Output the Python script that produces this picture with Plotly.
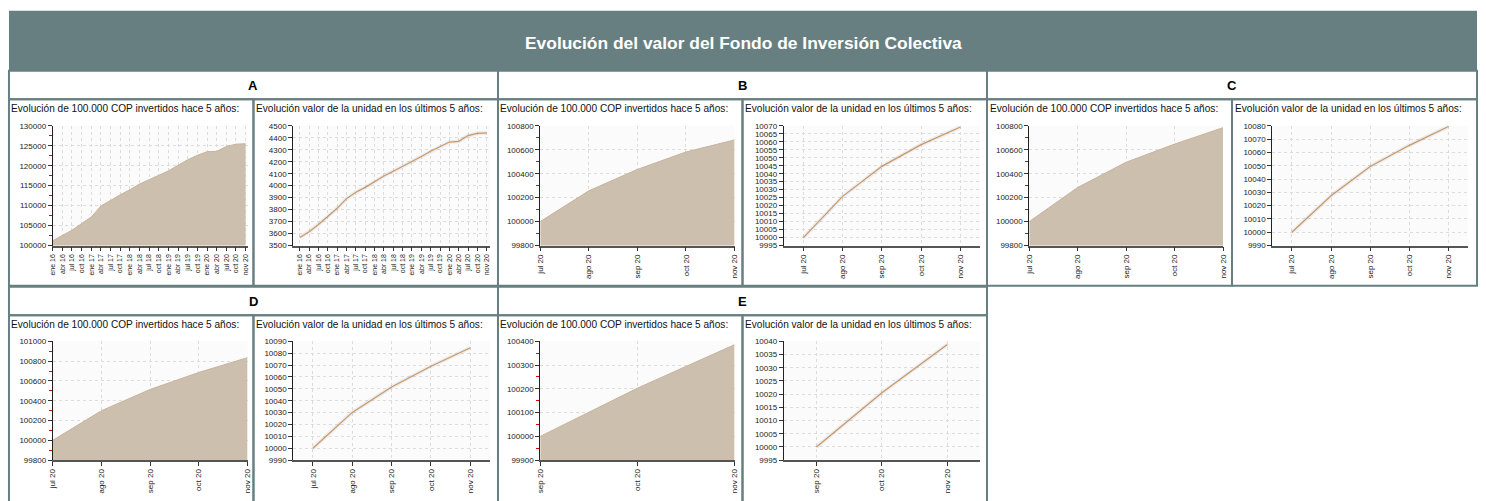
import plotly.graph_objects as go

W, H = 1486, 501

# ---------------- data ----------------
labels_A = ["ene 16", "abr 16", "jul 16", "oct 16", "ene 17", "abr 17", "jul 17", "oct 17",
            "ene 18", "abr 18", "jul 18", "oct 18", "ene 19", "abr 19", "jul 19", "oct 19",
            "ene 20", "abr 20", "jul 20", "oct 20", "nov 20"]
inv_A = [101200, 102450, 103850, 105500, 107150, 109900, 111400, 112700, 114000, 115400,
         116500, 117500, 118700, 120100, 121500, 122600, 123500, 123600, 124800, 125400, 125500]
unit_A = [3568, 3616, 3676, 3743, 3811, 3892, 3946, 3986, 4035, 4080, 4121, 4162, 4197, 4243,
          4288, 4329, 4364, 4370, 4418, 4437, 4440]

labels_BCD = ["jul 20", "ago 20", "sep 20", "oct 20", "nov 20"]
inv_B = [100000, 100257, 100436, 100581, 100682]
unit_B = [10000, 10025.8, 10044.6, 10058.2, 10069.2]
inv_C = [100000, 100285, 100496, 100647, 100784]
unit_C = [10000, 10027.4, 10049.4, 10065.3, 10079.5]
inv_D = [100000, 100299, 100514, 100686, 100835]
unit_D = [10000, 10030.2, 10051.6, 10069.0, 10084.6]

labels_E = ["sep 20", "oct 20", "nov 20"]
inv_E = [100000, 100203, 100386]
unit_E = [10000, 10020.5, 10038.8]

title = "Evolución del valor del Fondo de Inversión Colectiva"
sub_inv = "Evolución de 100.000 COP invertidos hace 5 años:"
sub_unit = "Evolución valor de la unidad en los últimos 5 años:"
fund_names = ["A", "B", "C", "D", "E"]

# ---------------- style ----------------
FONT = "Arial, Liberation Sans, sans-serif"
TEAL = "#687f81"
AREA_FILL = "#cdbfae"
AREA_LINE = "#c6b29c"
UNIT_LINE = "#c8996c"
GRID = "#dcdcdc"
GRID_DASH = "3px,3px"

def px_x(x):
    return x / W

def px_y(y):
    return 1 - y / H

fig = go.Figure()

rows_y = [(124, 246), (343.5, 464.5)]
cols = [(49, 245), (291, 489), (539.5, 735), (784.5, 982), (1031.5, 1226.5), (1276, 1473)]

panels = [
    (labels_A, inv_A, "area", cols[0], rows_y[0], [100000, 130000], 5000, 2500, [0, 20.2], 7),
    (labels_A, unit_A, "line", cols[1], rows_y[0], [3500, 4500], 100, None, [-0.7, 20.35], 7),
    (labels_BCD, inv_B, "area", cols[2], rows_y[0], [99800, 100800], 200, 100, [0, 4], 8),
    (labels_BCD, unit_B, "line", cols[3], rows_y[0], [9995, 10070], 5, None, [-0.5, 4.5], 8),
    (labels_BCD, inv_C, "area", cols[4], rows_y[0], [99800, 100800], 200, 100, [0, 4], 8),
    (labels_BCD, unit_C, "line", cols[5], rows_y[0], [9990, 10080], 10, None, [-0.5, 4.5], 8),
    (labels_BCD, inv_D, "area", cols[0], rows_y[1], [99800, 101000], 200, 100, [0, 4], 8),
    (labels_BCD, unit_D, "line", cols[1], rows_y[1], [9990, 10090], 10, None, [-0.5, 4.5], 8),
    (labels_E, inv_E, "area", cols[2], rows_y[1], [99900, 100400], 100, 50, [0, 2], 8),
    (labels_E, unit_E, "line", cols[3], rows_y[1], [9995, 10040], 5, None, [-0.5, 2.5], 8),
]

layout_axes = {}
for i, (labs, vals, kind, (x0, x1), (y0, y1), yr, dt, mn, xr, xfs) in enumerate(panels, start=1):
    xa = "x" if i == 1 else f"x{i}"
    ya = "y" if i == 1 else f"y{i}"
    if kind == "area":
        fig.add_trace(go.Scatter(x=labs, y=vals, xaxis=xa, yaxis=ya, mode="lines",
                                 fill="tozeroy", fillcolor=AREA_FILL,
                                 line=dict(color=AREA_LINE, width=1), hoverinfo="x+y",
                                 showlegend=False))
    else:
        fig.add_trace(go.Scatter(x=labs, y=vals, xaxis=xa, yaxis=ya, mode="lines",
                                 line=dict(color="rgba(0,0,0,0.06)", width=4),
                                 hoverinfo="skip", showlegend=False))
        fig.add_trace(go.Scatter(x=labs, y=vals, xaxis=xa, yaxis=ya, mode="lines",
                                 line=dict(color=UNIT_LINE, width=1.2), hoverinfo="x+y",
                                 showlegend=False))
    xkey = "xaxis" if i == 1 else f"xaxis{i}"
    ykey = "yaxis" if i == 1 else f"yaxis{i}"
    layout_axes[xkey] = dict(
        domain=[px_x(x0), px_x(x1)], anchor=ya, type="category", range=xr,
        showgrid=True, gridcolor=GRID, griddash=GRID_DASH, gridwidth=1,
        showline=True, linecolor="#555555", linewidth=1.5,
        ticks="outside", ticklen=4, tickcolor="#333333", tickangle=-90,
        tickfont=dict(family=FONT, size=xfs, color="#222222"), zeroline=False,
        fixedrange=True,
    )
    yax = dict(
        domain=[px_y(y1), px_y(y0)], anchor=xa, range=yr, dtick=dt, tick0=yr[0],
        showgrid=True, gridcolor=GRID, griddash=GRID_DASH, gridwidth=1,
        showline=True, linecolor="#222222", linewidth=1,
        ticks="outside", ticklen=4, tickcolor="#333333",
        tickformat="d", tickfont=dict(family=FONT, size=8, color="#222222"),
        zeroline=False, fixedrange=True,
    )
    if mn:
        yax["minor"] = dict(dtick=mn, tick0=yr[0], ticks="outside", ticklen=3,
                            tickcolor="#e00000", showgrid=False)
    layout_axes[ykey] = yax

# ---------------- table structure ----------------
shapes = []
annotations = []

def rect(x0, y0, x1, y1, fill=None, lw=2):
    shapes.append(dict(type="rect", xref="paper", yref="paper",
                       x0=px_x(x0), x1=px_x(x1), y0=px_y(y1), y1=px_y(y0),
                       line=dict(color=TEAL, width=lw),
                       fillcolor=fill if fill else "rgba(0,0,0,0)", layer="above"))

# title bar
rect(5, 7, 1482, 68, fill=TEAL, lw=0)
annotations.append(dict(text=f"<b>{title}</b>", x=px_x(744), y=px_y(40), xref="paper", yref="paper",
                        showarrow=False, font=dict(family=FONT, size=17.4, color="white"),
                        xanchor="center", yanchor="middle"))

big_cols = [(5, 497), (497, 989), (989, 1482)]
row_defs = [((68, 97), (97, 287), 3), ((288, 317), (317, 508), 2)]
k = 0
for (hy0, hy1), (cy0, cy1), ncell in row_defs:
    for c in range(ncell):
        bx0, bx1 = big_cols[c]
        rect(bx0, hy0, bx1, hy1)
        annotations.append(dict(text=f"<b>{fund_names[k]}</b>", x=px_x((bx0 + bx1) / 2),
                                y=px_y((hy0 + hy1) / 2 + 0.5), xref="paper", yref="paper",
                                showarrow=False, font=dict(family=FONT, size=13, color="black"),
                                xanchor="center", yanchor="middle"))
        mid = (bx0 + bx1) / 2
        rect(bx0, cy0, mid, cy1)
        rect(mid, cy0, bx1, cy1)
        for sx, st in ((bx0, sub_inv), (mid, sub_unit)):
            annotations.append(dict(text=st, x=px_x(sx + 0.5), y=px_y(cy0 + 9.5), xref="paper",
                                    yref="paper", showarrow=False,
                                    font=dict(family=FONT, size=10.1, color="#111111"),
                                    xanchor="left", yanchor="middle"))
        k += 1

fig.update_layout(
    width=W, height=H, autosize=False,
    margin=dict(l=0, r=0, t=0, b=0, pad=0),
    paper_bgcolor="white", plot_bgcolor="#fbfbfb",
    showlegend=False, shapes=shapes, annotations=annotations,
    hovermode="closest",
    **layout_axes,
)

fig.write_html("out.html", config={"displayModeBar": False},
               post_script="document.body.style.margin='0px';document.body.style.overflow='hidden';")
